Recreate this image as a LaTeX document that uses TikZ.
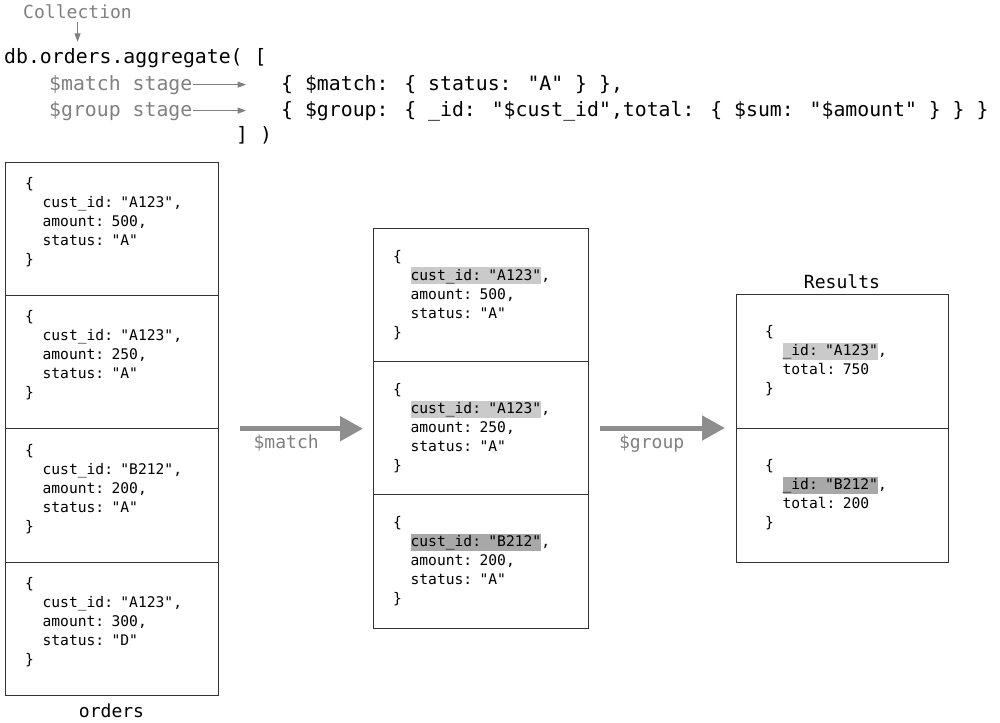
\documentclass[tikz,border=0pt]{standalone}
\usepackage{fontspec}
\newfontfamily\codefont{DejaVu Sans Mono}
\usetikzlibrary{positioning,arrows.meta}
\definecolor{lblgray}{HTML}{808080}
\definecolor{arrgray}{HTML}{8E8E8E}
\definecolor{hlA}{HTML}{CACACA}
\definecolor{hlB}{HTML}{A8A8A8}
\newcommand\docfont{\codefont\fontsize{12.5pt}{16.2pt}\selectfont}
\newcommand\codesize{\codefont\fontsize{16.9pt}{20pt}\selectfont}
\newcommand\lblsize{\codefont\fontsize{15.4pt}{18pt}\selectfont}
\newcommand\docind{\hspace*{1.2em}}
\newcommand\hilite[2]{{\setlength{\fboxsep}{0pt}\colorbox{#1}{\rule[-3.5pt]{0pt}{14.5pt}#2}}}
\tikzset{
    docbox/.style={draw=black!80,line width=0.6pt,rectangle,outer sep=0pt,align=left,font=\docfont},
    orderbox/.style={docbox,minimum width=6.39cm,minimum height=4cm,text width=5.19cm,inner xsep=0.6cm,
        execute at end node={\vspace{11pt}}},
    matchbox/.style={docbox,minimum width=6.45cm,minimum height=4cm,text width=5.25cm,inner xsep=0.6cm},
    resultbox/.style={docbox,minimum width=6.36cm,minimum height=4.02cm,text width=4.62cm,inner xsep=0.87cm},
    codetxt/.style={font=\codesize,inner sep=0pt,anchor=base west},
    stagelbl/.style={codetxt,text=lblgray},
    boxlbl/.style={font=\lblsize},
    oplbl/.style={font=\lblsize,text=lblgray},
    thinarrow/.style={draw=lblgray,line width=0.7pt,-{Triangle[length=0.25cm,width=0.18cm]}},
    bigarrow/.style={draw=arrgray,line width=0.15cm,-{Triangle[length=0.69cm,width=0.72cm]}},
}
\begin{document}
\begin{tikzpicture}[x=0.03cm,y=-0.03cm]
    \useasboundingbox (0,0) rectangle (1000,723);

    \node[codetxt,font=\lblsize,text=lblgray] (coll) at (23,18) {Collection};
    \node[codetxt] (aggr) at (4,63) {db.orders.aggregate( [};
    \node[stagelbl] (matchlbl) at (49,90) {\$match stage};
    \node[stagelbl] (grouplbl) at (49,116) {\$group stage};
    \node[codetxt] (matchcode) at (281,90) {\{ \$match: \{ status: "A" \} \},};
    \node[codetxt] (groupcode) at (281,116) {\{ \$group: \{ \_id: "\$cust\_id",total: \{ \$sum: "\$amount" \} \} \}};
    \node[codetxt] (closing) at (236,141) {] )};
    \draw[thinarrow,shorten <=0.12cm,shorten >=0.18cm] (coll.south) -- (coll.south |- aggr.north);
    \draw[thinarrow,shorten >=1.05cm] (matchlbl.east) -- (matchcode.west |- matchlbl.east);
    \draw[thinarrow,shorten >=1.05cm] (grouplbl.east) -- (groupcode.west |- grouplbl.east);

    \node[orderbox,anchor=north west] (o1) at (5,162) {\{\\\docind cust\_id: "A123",\\\docind amount: 500,\\\docind status: "A"\\\}};
    \node[orderbox,below=0pt of o1] (o2) {\{\\\docind cust\_id: "A123",\\\docind amount: 250,\\\docind status: "A"\\\}};
    \node[orderbox,below=0pt of o2] (o3) {\{\\\docind cust\_id: "B212",\\\docind amount: 200,\\\docind status: "A"\\\}};
    \node[orderbox,below=0pt of o3] (o4) {\{\\\docind cust\_id: "A123",\\\docind amount: 300,\\\docind status: "D"\\\}};
    \node[boxlbl,below=4pt of o4] (orders) {orders};

    \node[matchbox,anchor=north west] (m1) at (373,228) {\{\\\docind \hilite{hlA}{cust\_id: "A123"},\\\docind amount: 500,\\\docind status: "A"\\\}};
    \node[matchbox,below=0pt of m1] (m2) {\{\\\docind \hilite{hlA}{cust\_id: "A123"},\\\docind amount: 250,\\\docind status: "A"\\\}};
    \node[matchbox,below=0pt of m2] (m3) {\{\\\docind \hilite{hlB}{cust\_id: "B212"},\\\docind amount: 200,\\\docind status: "A"\\\}};

    \node[resultbox,anchor=north west] (r1) at (736,294) {\{\\\docind \hilite{hlA}{\_id: "A123"},\\\docind total: 750\\\}};
    \node[resultbox,below=0pt of r1] (r2) {\{\\\docind \hilite{hlB}{\_id: "B212"},\\\docind total: 200\\\}};
    \node[boxlbl,above=1pt of r1] (results) {Results};

    \draw[bigarrow,shorten <=0.66cm,shorten >=0.3cm] (o3.north east) -- (o3.north east -| m2.west) node[oplbl,pos=0.44,below] (matchop) {\$match};
    \draw[bigarrow,shorten <=0.36cm,shorten >=0.33cm] (r2.north west -| m2.east) -- (r2.north west) node[oplbl,pos=0.43,below] (groupop) {\$group};
\end{tikzpicture}
\end{document}
